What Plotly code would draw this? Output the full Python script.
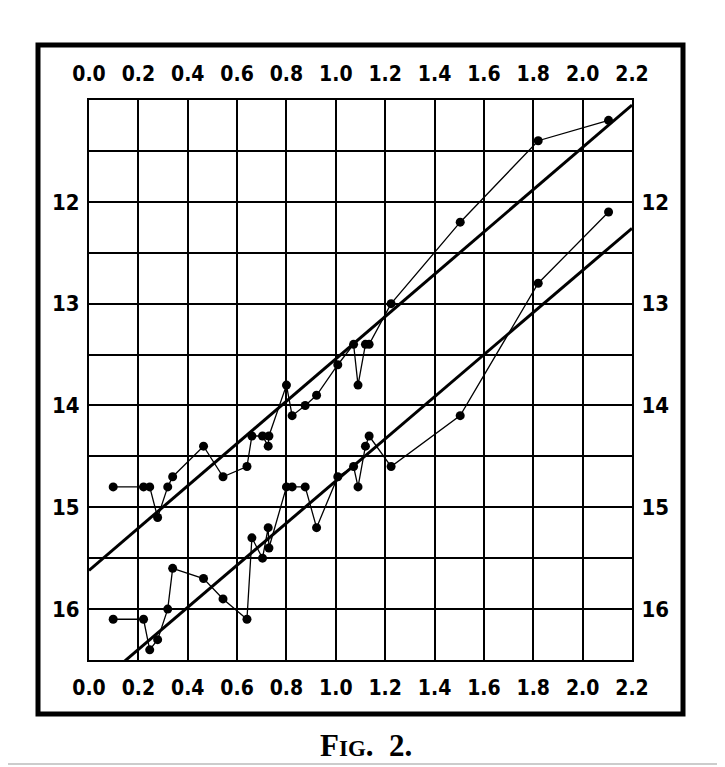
import plotly.graph_objects as go

# Data (log period vs. magnitude)
log_period = [0.098, 0.221, 0.246, 0.278, 0.319, 0.339, 0.464, 0.543, 0.640, 0.660,
              0.703, 0.726, 0.729, 0.800, 0.823, 0.876, 0.922, 1.008, 1.072, 1.090,
              1.120, 1.135, 1.224, 1.504, 1.820, 2.105]
max_mag = [14.8, 14.8, 14.8, 15.1, 14.8, 14.7, 14.4, 14.7, 14.6, 14.3,
           14.3, 14.4, 14.3, 13.8, 14.1, 14.0, 13.9, 13.6, 13.4, 13.8,
           13.4, 13.4, 13.0, 12.2, 11.4, 11.2]
min_mag = [16.1, 16.1, 16.4, 16.3, 16.0, 15.6, 15.7, 15.9, 16.1, 15.3,
           15.5, 15.2, 15.4, 14.8, 14.8, 14.8, 15.2, 14.7, 14.6, 14.8,
           14.4, 14.3, 14.6, 14.1, 12.8, 12.1]
fit_x = [0.0, 2.2]
max_fit = [15.62, 11.05]
min_fit = [16.81, 12.26]

x_ticks = [0.0, 0.2, 0.4, 0.6, 0.8, 1.0, 1.2, 1.4, 1.6, 1.8, 2.0, 2.2]
x_labels = ["0.0", "0.2", "0.4", "0.6", "0.8", "1.0", "1.2", "1.4", "1.6", "1.8", "2.0", "2.2"]
y_ticks = [11.5, 12.0, 12.5, 13.0, 13.5, 14.0, 14.5, 15.0, 15.5, 16.0]
y_labels = ["", "12", "", "13", "", "14", "", "15", "", "16"]

fig = go.Figure()
for mags in (max_mag, min_mag):
    fig.add_trace(go.Scatter(x=log_period, y=mags, mode="lines+markers",
                             line=dict(color="black", width=1.3),
                             marker=dict(color="black", size=9),
                             showlegend=False, hoverinfo="skip"))
for fit in (max_fit, min_fit):
    fig.add_trace(go.Scatter(x=fit_x, y=fit, mode="lines",
                             line=dict(color="black", width=3),
                             showlegend=False, hoverinfo="skip"))
# invisible trace for secondary axes
fig.add_trace(go.Scatter(x=fit_x, y=max_fit, xaxis="x2", yaxis="y2", mode="none",
                         showlegend=False, hoverinfo="skip"))

xfont = dict(family="DejaVu Sans Condensed, Liberation Sans Narrow, sans-serif", size=21,
             color="black", weight="bold")
yfont = dict(family="DejaVu Sans Condensed, Liberation Sans Narrow, sans-serif", size=22,
             color="black", weight="bold")
base = dict(showline=True, linecolor="black", linewidth=2, ticks="", zeroline=False)

# body margin of the page is 8px: plot area placed at screen x 89..632, y 100..660
fig.update_layout(
    width=725, height=767,
    margin=dict(l=81, r=101, t=92, b=115),
    paper_bgcolor="white", plot_bgcolor="white",
    xaxis=dict(range=[0, 2.2], tickvals=x_ticks, ticktext=x_labels, mirror=True,
               gridcolor="black", gridwidth=2, ticklabelstandoff=8, tickfont=xfont, **base),
    xaxis2=dict(range=[0, 2.2], tickvals=x_ticks, ticktext=x_labels, overlaying="x",
                side="top", showgrid=False, ticklabelstandoff=9, tickfont=xfont, **base),
    yaxis=dict(range=[16.5, 11.0], tickvals=y_ticks, ticktext=y_labels, mirror=True,
               gridcolor="black", gridwidth=2, ticklabelstandoff=3, tickfont=yfont, **base),
    yaxis2=dict(range=[16.5, 11.0], tickvals=y_ticks, ticktext=y_labels, overlaying="y",
                side="right", showgrid=False, ticklabelstandoff=3, tickfont=yfont, **base),
    shapes=[dict(type="rect", xref="paper", yref="paper",
                 x0=(38 - 89) / 543, x1=(683 - 89) / 543,
                 y0=(660 - 714) / 560, y1=(660 - 45) / 560,
                 line=dict(color="black", width=5)),
            dict(type="line", xref="paper", yref="paper",
                 x0=(0 - 89) / 543, x1=(725 - 89) / 543,
                 y0=(660 - 764) / 560, y1=(660 - 764) / 560,
                 line=dict(color="#999999", width=1))],
    annotations=[dict(xref="paper", yref="paper", x=(366 - 89) / 543, y=(660 - 745) / 560,
                      text="F<span style='font-size:23px'>IG</span>.  2.", showarrow=False,
                      font=dict(family="Liberation Serif, DejaVu Serif, serif", size=31,
                                color="black", weight="bold"),
                      xanchor="center", yanchor="middle")],
)

fig.write_html("out.html")
